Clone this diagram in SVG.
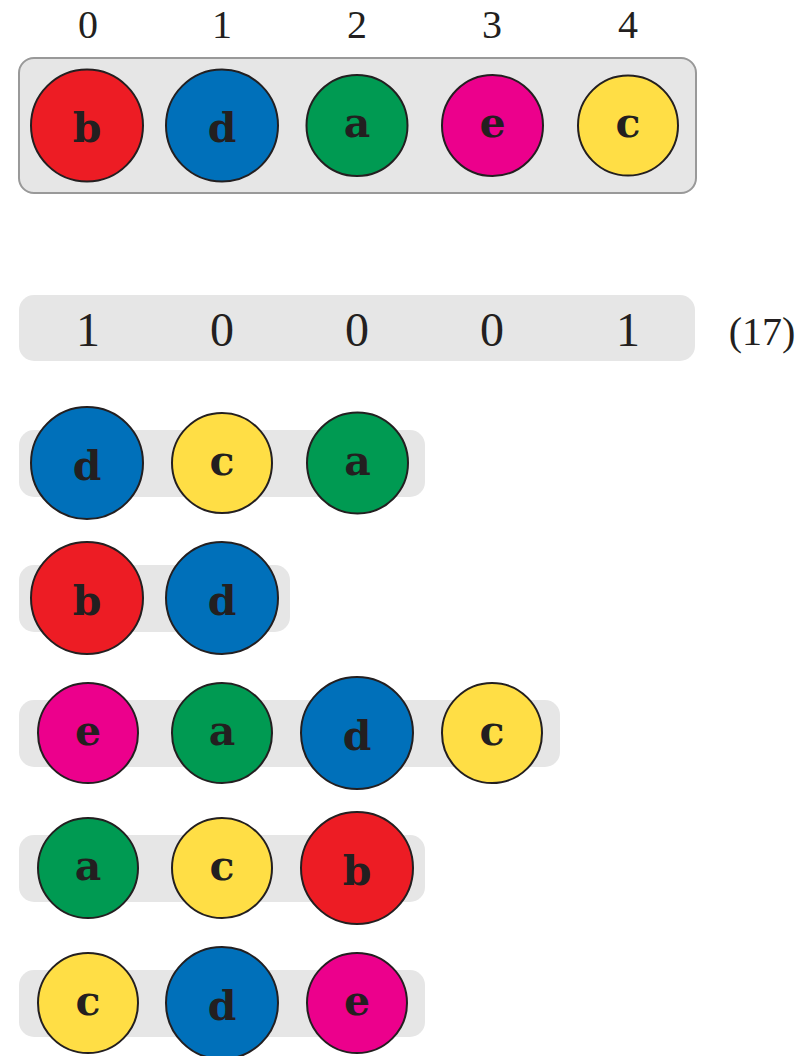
<svg xmlns="http://www.w3.org/2000/svg" width="812" height="1056" viewBox="0 0 812 1056">
<style>
.bar{fill:#e6e6e6}
.box{fill:#e6e6e6;stroke:#999;stroke-width:2}
.n{stroke:#231f20;stroke-width:2}
.R{fill:#ed1c24}.B{fill:#0070ba}.G{fill:#009a52}.M{fill:#ec008c}.Y{fill:#ffde45}
.l{font-family:"DejaVu Serif",serif;font-weight:bold;font-size:41px;fill:#231f20;text-anchor:middle}
.idx{font-family:"Liberation Serif",serif;font-size:40px;fill:#231f20;text-anchor:middle}
.bit{font-family:"Liberation Serif",serif;font-size:48px;fill:#231f20;text-anchor:middle}
</style>
<g id="indices">
<text class="idx" x="88" y="38">0</text>
<text class="idx" x="222" y="38">1</text>
<text class="idx" x="357" y="38">2</text>
<text class="idx" x="492" y="38">3</text>
<text class="idx" x="628" y="38">4</text>
</g>
<g id="row0">
<rect class="box" x="19" y="58" width="677" height="135" rx="15"/>
<g id="r0b"><circle class="n R" cx="87" cy="125.5" r="56"/><text class="l" x="87" y="142">b</text></g>
<g id="r0d"><circle class="n B" cx="222" cy="125.5" r="56"/><text class="l" x="222" y="142">d</text></g>
<g id="r0a"><circle class="n G" cx="357" cy="125.5" r="50.5"/><text class="l" x="357" y="137">a</text></g>
<g id="r0e"><circle class="n M" cx="492.5" cy="125.5" r="50.5"/><text class="l" x="492.5" y="137">e</text></g>
<g id="r0c"><circle class="n Y" cx="628" cy="125.5" r="50"/><text class="l" x="628" y="137">c</text></g>
</g>
<g id="bits">
<rect class="bar" x="19" y="295" width="676" height="66" rx="15"/>
<text class="bit" x="88" y="346">1</text>
<text class="bit" x="222" y="346">0</text>
<text class="bit" x="357" y="346">0</text>
<text class="bit" x="492" y="346">0</text>
<text class="bit" x="628" y="346">1</text>
<text class="idx" x="762" y="345">(17)</text>
</g>
<g id="row1">
<rect class="bar" x="19" y="430" width="406" height="67" rx="15"/>
<g id="r1d"><circle class="n B" cx="87" cy="463" r="56"/><text class="l" x="87" y="479.5">d</text></g>
<g id="r1c"><circle class="n Y" cx="222" cy="463" r="50"/><text class="l" x="222" y="474.5">c</text></g>
<g id="r1a"><circle class="n G" cx="357.5" cy="463" r="50.5"/><text class="l" x="357.5" y="474.5">a</text></g>
</g>
<g id="row2">
<rect class="bar" x="19" y="565" width="271" height="67" rx="15"/>
<g id="r2b"><circle class="n R" cx="87" cy="598" r="56"/><text class="l" x="87" y="614.5">b</text></g>
<g id="r2d"><circle class="n B" cx="222" cy="598" r="56"/><text class="l" x="222" y="614.5">d</text></g>
</g>
<g id="row3">
<rect class="bar" x="19" y="700" width="541" height="67" rx="15"/>
<g id="r3e"><circle class="n M" cx="88" cy="733" r="50"/><text class="l" x="88" y="744.5">e</text></g>
<g id="r3a"><circle class="n G" cx="222" cy="733" r="50"/><text class="l" x="222" y="744.5">a</text></g>
<g id="r3d"><circle class="n B" cx="357" cy="733" r="56"/><text class="l" x="357" y="749.5">d</text></g>
<g id="r3c"><circle class="n Y" cx="492" cy="733" r="50"/><text class="l" x="492" y="744.5">c</text></g>
</g>
<g id="row4">
<rect class="bar" x="19" y="835" width="406" height="67" rx="15"/>
<g id="r4a"><circle class="n G" cx="88" cy="868" r="50"/><text class="l" x="88" y="879.5">a</text></g>
<g id="r4c"><circle class="n Y" cx="222" cy="868" r="50"/><text class="l" x="222" y="879.5">c</text></g>
<g id="r4b"><circle class="n R" cx="357" cy="868" r="56"/><text class="l" x="357" y="884.5">b</text></g>
</g>
<g id="row5">
<rect class="bar" x="19" y="970" width="406" height="67" rx="15"/>
<g id="r5c"><circle class="n Y" cx="88" cy="1003" r="50"/><text class="l" x="88" y="1014.5">c</text></g>
<g id="r5d"><circle class="n B" cx="222" cy="1003" r="56"/><text class="l" x="222" y="1019.5">d</text></g>
<g id="r5e"><circle class="n M" cx="357" cy="1003" r="50"/><text class="l" x="357" y="1014.5">e</text></g>
</g>
<g id="connectors"/>
</svg>
